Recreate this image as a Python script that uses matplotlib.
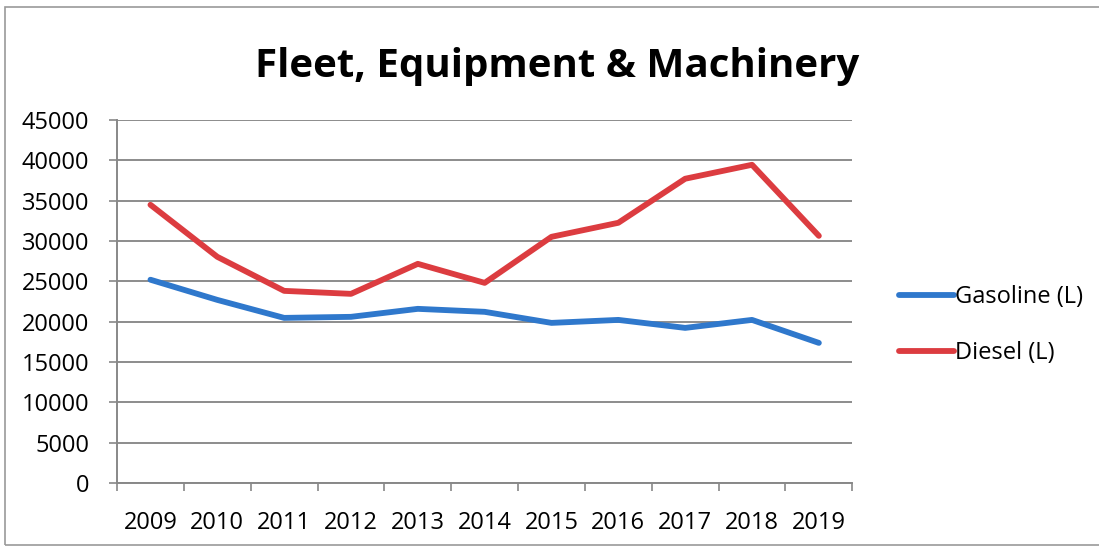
import matplotlib.pyplot as plt
import numpy as np
from matplotlib.patches import Rectangle

years = ['2009', '2010', '2011', '2012', '2013', '2014',
         '2015', '2016', '2017', '2018', '2019']
gasoline = [25200, 22700, 20470, 20600, 21590, 21220,
            19850, 20220, 19230, 20220, 17370]
diesel = [34490, 28040, 23820, 23450, 27170, 24810,
          30520, 32260, 37720, 39450, 30640]

plt.rcParams['font.family'] = ['Open Sans', 'DejaVu Sans']

fig = plt.figure(figsize=(10.99, 5.48), dpi=100)
ax = fig.add_axes([0.1065, 0.1186, 0.669, 0.6624])

x = np.arange(len(years))
ax.plot(x, gasoline, color='#2f78cc', lw=4.2, label='Gasoline (L)', solid_capstyle='round')
ax.plot(x, diesel, color='#dc3c40', lw=4.2, label='Diesel (L)', solid_capstyle='round')

ax.set_xlim(-0.5, len(years) - 0.5)
ax.set_ylim(0, 45000)
ax.set_yticks(np.arange(0, 45001, 5000))
ax.set_xticks(x)
ax.set_xticklabels(years)
# category boundaries get the tick marks, labels sit between them
ax.set_xticks(np.arange(-0.5, len(years)), minor=True)
ax.tick_params(axis='x', which='major', length=0, pad=20, labelsize=17)
ax.tick_params(axis='x', which='minor', length=6, color='#888888', width=1.2)
ax.tick_params(axis='y', length=6, color='#888888', width=1.2, pad=14, labelsize=17)

ax.grid(axis='y', color='#8c8c8c', lw=1.4)
ax.set_axisbelow(True)
for side in ['top', 'right']:
    ax.spines[side].set_visible(False)
for side in ['left', 'bottom']:
    ax.spines[side].set_color('#888888')
    ax.spines[side].set_linewidth(1.4)

fig.suptitle('Fleet, Equipment & Machinery', x=0.507, y=0.915,
             fontsize=29, fontweight='bold')

ax.legend(loc='center left', bbox_to_anchor=(1.035, 0.435), frameon=False,
          fontsize=17, handlelength=2.3, handletextpad=0.05, labelspacing=1.35)

# outer chart frame
fig.patches.append(Rectangle((0.005, 0.005), 1.2, 0.982, transform=fig.transFigure,
                             fill=False, edgecolor='#9a9a9a', lw=1.2))

fig.savefig('out.png', dpi=100)
